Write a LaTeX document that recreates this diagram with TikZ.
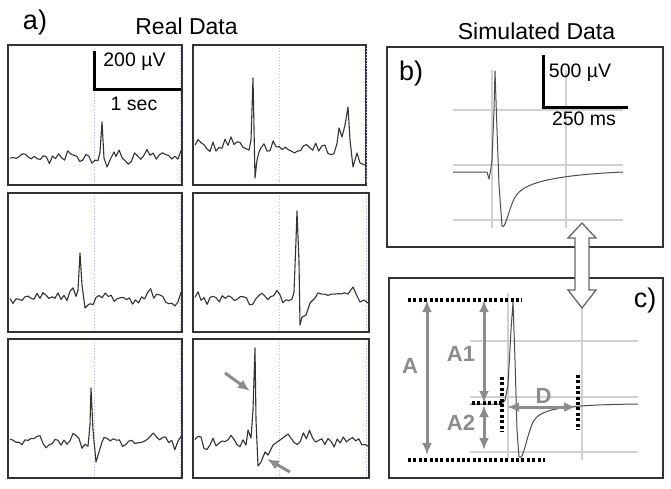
\documentclass[tikz,border=0pt]{standalone}
\usepackage{fontspec}
\setmainfont{Liberation Sans}
\usepackage{tikz}
\usetikzlibrary{arrows.meta}
\usetikzlibrary{calc}
\newcommand{\headsize}{\fontsize{23}{23}\selectfont}
\newcommand{\barsize}{\fontsize{19.5}{19.5}\selectfont}
\newcommand{\panelsize}{\fontsize{27}{27}\selectfont}
\newcommand{\measuresize}{\fontsize{22}{22}\selectfont\bfseries}
\definecolor{markerblue}{RGB}{185,185,235}

\begin{document}
\begin{tikzpicture}[
  x=1pt, y=-1pt,
  > = {Latex[length=12pt,width=10pt]},
  declare function={wob(\t)=3*sin(9*\t)+2*sin(23*\t+40);},
  frame/.style = {draw=black!80, line width=1.4pt},
  trace/.style = {draw=black!80, line width=1.1pt, line join=round},
  simtrace/.style = {draw=black!70, line width=1pt, line join=round},
  marker/.style = {draw=markerblue, dotted, line width=0.9pt},
  gridline/.style = {draw=black!18, line width=1.1pt},
  scalebar/.style = {draw=black, line width=3pt},
  measure/.style = {draw=black!45, line width=3pt},
  dotline/.style = {draw=black, line width=3.2pt, dash pattern=on 3pt off 2.4pt},
  hollow/.style = {draw=black!60, fill=white, line width=1.3pt, line join=miter},
  gray label/.style = {text=black!45, font=\measuresize}
  ]
	\useasboundingbox (0,0) rectangle (671,488);
	\pgfmathsetseed{11}

	% titles and panel labels
	\node (lbla) at (35,23) {\panelsize a)};
	\node (realtitle) at (186.5,26.5) {\headsize Real Data};
	\node (simtitle) at (536.5,31) {\headsize Simulated Data};

	% real data panels
	\draw[frame] (8,45) rectangle (182,185);
	\draw[frame] (193,45) rectangle (366,185);
	\draw[frame] (8,193) rectangle (182,332);
	\draw[frame] (193,193) rectangle (369,332);
	\draw[frame] (8,339) rectangle (182,478);
	\draw[frame] (193,339) rectangle (369,478);

	\foreach \ya/\yb in {48/183, 196/330, 342/476} {
		\draw[marker] (94,\ya) -- (94,\yb);
		\draw[marker] (180,\ya) -- (180,\yb);
		\draw[marker] (279,\ya) -- (279,\yb);
		\draw[marker] (366,\ya) -- (366,\yb);
	}

	% scale bar, real data
	\coordinate (rbartop) at (94,51);
	\coordinate (rbarcorner) at (94,89);
	\coordinate (rbarend) at (181,89);
	\draw[scalebar] (rbartop) -- (rbarcorner) -- (rbarend);
	\node (rvolt) at (134.5,62) {\barsize 200 µV};
	\node (rtime) at (134,104) {\barsize 1 sec};

	% recorded traces
	\draw[trace] plot[domain=10:98, samples=30] (\x,{157+5*rand+wob(\x)}) -- (100,152) -- (102,122) -- (104,158)
		-- (107,167) -- (110,160) -- (114,152) -- plot[domain=116:181, samples=22] (\x,{156+5*rand+wob(\x)});
	\draw[trace] plot[domain=195:249, samples=19] (\x,{146+5*rand+wob(\x)}) -- (251,140) -- (253,78) -- (255,178)
		-- (257,160) -- (259,152) -- plot[domain=261:337, samples=26] (\x,{148+5*rand+wob(\x)})
		-- (339,128) -- (342,137) -- (345,125) -- (348,107) -- (350,140) -- (353,167) -- (357,153)
		-- (360,163) -- (365,165);
	\draw[trace] plot[domain=10:76, samples=23] (\x,{297+5*rand+wob(\x)}) -- (78,290) -- (80,253) -- (82,285)
		-- (85,308) -- (88,305) -- plot[domain=90:181, samples=31] (\x,{298+5*rand+wob(\x)});
	\draw[trace] plot[domain=195:292, samples=33] (\x,{298+4.5*rand+wob(\x)}) -- (294,292) -- (296,240) -- (297,211)
		-- (299,262) -- (300,325) -- (302,317) -- (306,315) -- (310,303) -- (315,298)
		-- plot[domain=318:348, samples=10] (\x,{294+1.5*rand}) -- (353,287) -- (357,296) -- (360,302)
		-- (364,300) -- (368,303);
	\draw[trace] plot[domain=10:88, samples=27] (\x,{442+5*rand+wob(\x)}) -- (90,425) -- (91,388) -- (93,430)
		-- (96,462) -- (99,452) -- (102,442) -- plot[domain=104:181, samples=26] (\x,{441+5*rand+wob(\x)});
	\draw[trace] plot[domain=195:246, samples=18] (\x,{442+5*rand+wob(\x)}) -- (248,430) -- (251,438) -- (253,410)
		-- (255,348) -- (256,420) -- (258,466) -- (261,462) -- (265,452) -- (268,455) -- (273,445)
		-- (280,440) -- (288,434) -- plot[domain=291:368, samples=26] (\x,{437+5*rand+wob(\x)+0.08*(\x-291)});

	% arrows on the last trace
	\coordinate (spiketail) at (225,373);
	\coordinate (spiketip) at (250,391);
	\coordinate (troughtail) at (290,472);
	\coordinate (troughtip) at (267,459);
	\draw[measure,->] (spiketail) -- (spiketip);
	\draw[measure,->] (troughtail) -- (troughtip);

	% simulated data, panel b
	\draw[frame] (387,47) rectangle (663,247);
	\node (lblb) at (411,74) {\panelsize b)};
	\foreach \yg in {110,165,220}
		\draw[gridline] (453,\yg) -- (623,\yg);
	\foreach \xg in {492,566}
		\draw[gridline] (\xg,70) -- (\xg,228);
	\draw[simtrace] (453,172) -- (487,172) -- (489,179) -- (491,168) -- (492,160) -- (494,110) -- (495,71)
		-- (497,130) -- (499,185) -- (502,226) .. controls (505,230) and (508,212) .. (514,199)
		.. controls (520,187) and (535,176) .. (623,172);
	\coordinate (sbartop) at (543,55);
	\coordinate (sbarcorner) at (543,107);
	\coordinate (sbarend) at (628,107);
	\draw[scalebar] (sbartop) -- (sbarcorner) -- (sbarend);
	\node (svolt) at (580,73) {\barsize 500 µV};
	\node (stime) at (584,119) {\barsize 250 ms};

	% simulated data, panel c
	\draw[frame] (389,278) rectangle (663,478);
	\node (lblc) at (645,301) {\panelsize c)};
	\foreach \yg in {341,397,452}
		\draw[gridline] (470,\yg) -- (638,\yg);
	\foreach \xg in {508,582}
		\draw[gridline] (\xg,293) -- (\xg,460);
	\draw[simtrace] (470,404) -- (502,404) -- (505,400) -- (508,385) -- (511,330) -- (513,302) -- (515,360)
		-- (517,430) -- (519,457) .. controls (523,462) and (526,438) .. (533,422)
		.. controls (540,410) and (555,405) .. (638,404);

	\coordinate (topleft) at (408,300);
	\coordinate (topright) at (522,300);
	\coordinate (botleft) at (408,460);
	\coordinate (botright) at (545,460);
	\coordinate (baseleft) at (472,403);
	\coordinate (baseright) at (502,403);
	\coordinate (onsettop) at (502,377);
	\coordinate (onsetbot) at (502,432);
	\coordinate (endtop) at (578,375);
	\coordinate (endbot) at (578,430);
	\draw[dotline] (topleft) -- (topright);
	\draw[dotline] (botleft) -- (botright);
	\draw[dotline] (baseleft) -- (baseright);
	\draw[dotline] (onsettop) -- (onsetbot);
	\draw[dotline] (endtop) -- (endbot);

	\coordinate (atop) at (427,300);
	\coordinate (abot) at (427,455);
	\coordinate (aonetop) at (484,300);
	\coordinate (aonebot) at (484,403);
	\coordinate (atwotop) at (484,405);
	\coordinate (atwobot) at (484,450);
	\coordinate (dleft) at (507,407);
	\coordinate (dright) at (576,407);
	\draw[measure,<->] (atop) -- (abot);
	\draw[measure,<->] (aonetop) -- (aonebot);
	\draw[measure,<->] (atwotop) -- (atwobot);
	\draw[measure,<->] (dleft) -- (dright);
	\node[gray label] (labA) at (410,366) {A};
	\node[gray label] (labAone) at (461,354) {A1};
	\node[gray label] (labAtwo) at (461,423) {A2};
	\node[gray label] (labD) at (543.5,396) {D};

	% link between b and c
	\draw[hollow] (582,223) -- (596,238) -- (589,238) -- (589,290) -- (596,290) -- (582,308) -- (568,290)
		-- (575,290) -- (575,238) -- (568,238) -- cycle;

\end{tikzpicture}
\end{document}
